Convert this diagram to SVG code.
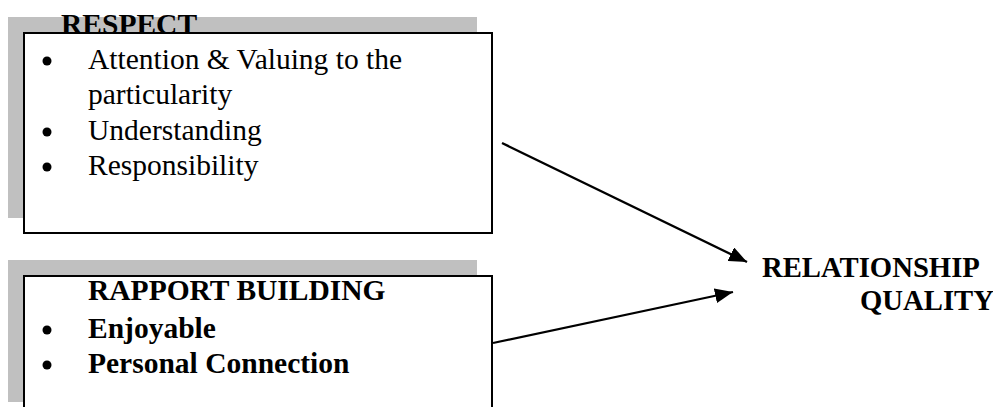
<svg xmlns="http://www.w3.org/2000/svg" width="993" height="407" viewBox="0 0 993 407">
<style>
.shadow{fill:#c0c0c0;}
.box{fill:#ffffff;stroke:#000000;stroke-width:2;}
.t{font-family:"Liberation Serif","Times New Roman",serif;font-size:29.5px;fill:#000;}
.b{font-weight:bold;}
.r{font-size:28.7px;}
.dot{fill:#000;}
.conn{stroke:#000;stroke-width:2.3;fill:none;marker-end:url(#ah);}
</style>
<defs>
<marker id="ah" markerUnits="userSpaceOnUse" markerWidth="19" markerHeight="15" refX="18" refY="7.5" orient="auto">
<path d="M0,0 L18,7.5 L0,15 z" fill="#000"/>
</marker>
</defs>
<rect width="993" height="407" fill="#ffffff"/>
<g id="respect">
<rect class="shadow" x="8" y="17" width="469" height="201"/>
<rect class="box" x="24" y="33" width="468" height="200"/>
<text class="t b" x="61" y="33.5" font-size="28">RESPECT</text>
<circle class="dot" cx="47" cy="61" r="4.5"/>
<text class="t" x="88" y="68.5">Attention &amp; Valuing to the</text>
<text class="t" x="88" y="104">particularity</text>
<circle class="dot" cx="47" cy="132" r="4.5"/>
<text class="t" x="88" y="140">Understanding</text>
<circle class="dot" cx="47" cy="167" r="4.5"/>
<text class="t" x="88" y="175">Responsibility</text>
</g>
<g id="rapport">
<rect class="shadow" x="8" y="260" width="469" height="142"/>
<rect class="box" x="24" y="276" width="468" height="140"/>
<text class="t b" x="88" y="300">RAPPORT BUILDING</text>
<circle class="dot" cx="47" cy="330" r="4.5"/>
<text class="t b" x="88" y="338">Enjoyable</text>
<circle class="dot" cx="47" cy="365" r="4.5"/>
<text class="t b" x="88" y="373">Personal Connection</text>
</g>
<g id="quality">
<text class="t b r" x="762" y="277">RELATIONSHIP</text>
<text class="t b r" x="860" y="310">QUALITY</text>
</g>
<g id="connectors">
<line class="conn" x1="502" y1="143" x2="747" y2="262"/>
<line class="conn" x1="493" y1="343" x2="733" y2="292"/>
</g>
</svg>
